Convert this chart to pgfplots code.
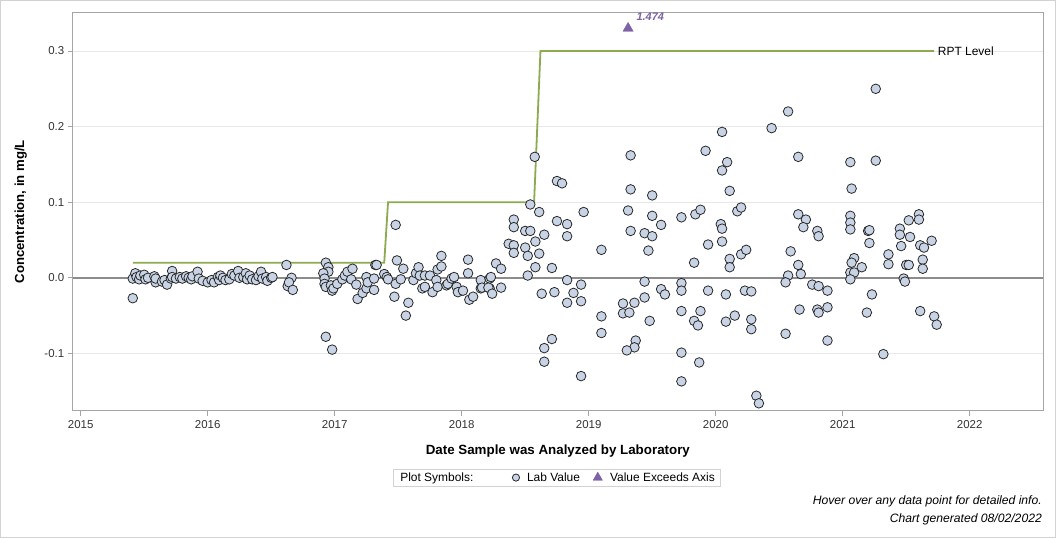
\documentclass[border=0pt]{standalone}
\usepackage{fontspec}
\setmainfont{Liberation Sans}
\usepackage{pgfplots}
\pgfplotsset{compat=1.18}
\definecolor{ptfill}{RGB}{200,212,229}
\definecolor{ptedge}{RGB}{40,40,40}
\definecolor{rptgreen}{RGB}{140,170,80}
\definecolor{exceed}{RGB}{125,98,165}
\definecolor{gridc}{RGB}{232,232,232}
\definecolor{framec}{RGB}{165,165,165}
\definecolor{zeroc}{RGB}{140,140,140}
\definecolor{outerc}{RGB}{210,210,210}
\begin{document}
\begin{tikzpicture}
\fill[white] (0bp,0bp) rectangle (1056bp,538bp);
\draw[outerc, line width=1bp] (0.5bp,0.5bp) rectangle (1055.5bp,537.5bp);
\useasboundingbox (0bp,0bp) rectangle (1056bp,538bp);
\begin{axis}[
  at={(72.7bp,127.3bp)}, anchor=south west,
  scale only axis, width=970.3bp, height=398bp,
  xmin=2014.937, xmax=2022.577,
  ymin=-0.1758, ymax=0.3507,
  clip mode=individual,
  axis line style={framec, line width=0.9bp},
  xtick={2015,2016,2017,2018,2019,2020,2021,2022},
  ytick={-0.1,0,0.1,0.2,0.3},
  xtick pos=lower, ytick pos=left,
  tick align=outside,
  major tick length=5bp,
  tick style={framec, line width=0.8bp},
  ymajorgrids, major grid style={gridc, line width=0.9bp},
  /pgf/number format/assume math mode=true,
  xticklabel style={/pgf/number format/1000 sep={}, font=\fontsize{11.5}{13}\selectfont, text=black!80, yshift=-1bp},
  yticklabel style={/pgf/number format/.cd, fixed, fixed zerofill, precision=1, /tikz/.cd, font=\fontsize{11.5}{13}\selectfont, text=black!80},
  xlabel={Date Sample was Analyzed by Laboratory},
  ylabel={Concentration, in mg/L},
  xlabel style={font=\fontsize{13.4}{15}\selectfont\bfseries, at={(axis description cs:0.5,-0.1015)}, anchor=center},
  ylabel style={font=\fontsize{13.2}{15}\selectfont\bfseries, at={(axis description cs:-0.0535,0.5)}, anchor=center},
  legend columns=3,
  legend style={at={(axis description cs:0.3300,-0.1455)}, anchor=north west,
    draw=outerc, line width=0.8bp, font=\fontsize{12}{14}\selectfont,
    inner xsep=3.5bp, inner ysep=1.5bp,
    /tikz/every even column/.append style={column sep=11bp},
    /tikz/every odd column/.append style={column sep=5.5bp}},
]
\addlegendimage{empty legend}
\addlegendentry{\hspace*{-4bp}Plot Symbols:\rule{26bp}{0bp}}
\addplot[forget plot, draw=zeroc, line width=1.8bp] coordinates {(2014.937,0) (2022.577,0)};
\addplot[forget plot, draw=rptgreen, line width=1.8bp] coordinates {
(2015.41,0.02) (2017.39,0.02) (2017.42,0.1) (2018.57,0.1) (2018.62,0.3) (2021.72,0.3)};
\node[anchor=west, font=\fontsize{12}{14}\selectfont, inner sep=1bp] at (axis cs:2021.74,0.3) {RPT Level};
\addplot[only marks, mark=*, mark size=4.8bp,
  mark options={fill=ptfill, draw=ptedge, line width=0.8bp},
  legend image post style={mark size=3.6bp}] table {
x y
2015.41 -0.001
2015.41 -0.027
2015.43 0.006
2015.44 0.001
2015.46 -0.002
2015.47 0.003
2015.50 0.004
2015.51 -0.002
2015.53 0.000
2015.58 0.002
2015.59 -0.006
2015.59 -0.001
2015.64 -0.005
2015.66 -0.003
2015.68 -0.009
2015.71 -0.001
2015.72 0.009
2015.72 0.001
2015.75 -0.001
2015.78 0.001
2015.80 -0.001
2015.83 0.002
2015.85 0.000
2015.87 -0.002
2015.88 0.002
2015.92 0.008
2015.93 -0.001
2015.96 -0.004
2016.00 -0.006
2016.03 -0.003
2016.05 -0.006
2016.08 0.001
2016.09 -0.003
2016.10 0.003
2016.12 0.000
2016.14 -0.003
2016.17 -0.002
2016.19 0.005
2016.21 0.003
2016.24 0.009
2016.25 0.000
2016.28 0.001
2016.30 0.006
2016.31 -0.002
2016.33 0.003
2016.35 -0.002
2016.38 -0.003
2016.40 0.002
2016.42 0.008
2016.43 -0.001
2016.46 0.001
2016.47 -0.004
2016.50 0.000
2016.51 0.001
2016.62 0.017
2016.66 0.000
2016.63 -0.011
2016.64 -0.006
2016.67 -0.016
2016.93 0.020
2016.95 0.014
2016.95 0.008
2016.91 0.006
2016.92 -0.001
2016.92 -0.008
2016.93 -0.012
2016.97 -0.010
2016.98 -0.017
2016.99 -0.014
2017.02 -0.008
2017.06 -0.002
2017.08 0.003
2017.10 0.008
2017.14 0.012
2017.13 -0.002
2017.17 -0.009
2017.18 -0.028
2017.22 -0.020
2017.25 -0.014
2017.25 0.001
2017.26 -0.006
2017.31 -0.016
2017.31 -0.001
2017.32 0.017
2017.33 0.017
2017.39 0.005
2017.41 0.001
2017.42 -0.002
2017.47 -0.025
2017.48 -0.008
2017.49 0.023
2017.48 0.070
2017.52 -0.002
2017.54 0.012
2017.58 -0.033
2017.56 -0.050
2017.62 -0.003
2017.64 0.006
2017.66 0.014
2017.67 0.003
2017.69 -0.014
2017.71 -0.012
2017.71 0.003
2017.75 0.003
2017.77 -0.019
2017.80 -0.003
2017.81 -0.012
2017.81 0.011
2017.84 0.029
2017.84 0.015
2017.88 -0.010
2017.89 -0.008
2017.92 -0.001
2017.94 0.001
2017.96 -0.012
2017.97 -0.019
2018.01 -0.017
2018.05 0.024
2018.05 0.006
2018.06 -0.029
2018.09 -0.025
2018.15 -0.003
2018.15 -0.014
2018.22 -0.001
2018.22 -0.014
2016.93 -0.078
2016.98 -0.095
2018.575 0.160
2018.75 0.128
2018.79 0.125
2019.33 0.162
2019.33 0.117
2019.50 0.109
2018.54 0.097
2018.61 0.087
2018.41 0.077
2018.41 0.067
2018.50 0.062
2018.54 0.062
2018.65 0.057
2018.75 0.075
2018.83 0.071
2018.83 0.055
2018.96 0.087
2018.58 0.048
2018.37 0.045
2018.41 0.043
2018.41 0.033
2018.50 0.040
2018.52 0.029
2018.61 0.032
2018.27 0.019
2018.31 0.012
2018.58 0.014
2018.71 0.013
2018.52 0.003
2019.10 0.037
2019.31 0.089
2019.33 0.062
2019.44 0.059
2019.50 0.055
2019.50 0.082
2019.47 0.036
2019.57 0.070
2018.23 0.001
2018.16 -0.013
2018.21 -0.013
2018.31 -0.013
2018.24 -0.021
2018.83 -0.003
2018.94 -0.009
2018.63 -0.021
2018.73 -0.019
2018.88 -0.020
2018.83 -0.033
2018.94 -0.031
2019.10 -0.051
2019.10 -0.073
2019.27 -0.034
2019.27 -0.047
2019.32 -0.046
2019.36 -0.033
2019.44 -0.026
2019.48 -0.057
2019.44 -0.005
2019.57 -0.015
2018.71 -0.081
2018.65 -0.093
2018.65 -0.111
2018.94 -0.130
2019.37 -0.083
2019.36 -0.092
2019.30 -0.096
2020.57 0.220
2020.44 0.198
2020.05 0.193
2019.92 0.168
2020.65 0.160
2020.09 0.153
2020.05 0.142
2020.11 0.115
2019.73 0.080
2019.84 0.084
2019.88 0.090
2020.04 0.071
2020.05 0.065
2019.94 0.044
2020.05 0.048
2020.17 0.088
2020.20 0.093
2020.20 0.031
2020.24 0.037
2020.11 0.025
2020.11 0.014
2019.83 0.020
2020.65 0.084
2020.71 0.077
2020.69 0.067
2020.80 0.062
2020.81 0.055
2020.59 0.035
2020.65 0.017
2020.67 0.005
2020.57 0.003
2020.55 -0.006
2020.76 -0.009
2020.81 -0.011
2019.60 -0.022
2019.73 -0.007
2019.73 -0.017
2019.94 -0.017
2020.08 -0.022
2020.23 -0.017
2020.28 -0.018
2019.73 -0.044
2019.88 -0.044
2019.83 -0.057
2019.86 -0.063
2020.08 -0.058
2020.15 -0.050
2020.28 -0.055
2020.28 -0.068
2020.55 -0.074
2020.66 -0.042
2020.80 -0.042
2020.81 -0.046
2019.73 -0.099
2019.87 -0.112
2019.73 -0.137
2020.32 -0.156
2020.34 -0.166
2021.26 0.250
2021.06 0.153
2021.26 0.155
2021.07 0.118
2021.06 0.082
2021.06 0.073
2021.06 0.064
2021.20 0.062
2021.21 0.063
2021.21 0.046
2021.09 0.026
2021.07 0.020
2021.06 0.007
2021.09 0.007
2021.15 0.014
2021.06 -0.002
2021.36 0.031
2021.36 0.018
2021.45 0.065
2021.45 0.057
2021.52 0.076
2021.53 0.054
2021.46 0.042
2021.60 0.084
2021.60 0.077
2021.61 0.043
2021.64 0.040
2021.70 0.049
2021.63 0.024
2021.63 0.012
2021.50 0.017
2021.52 0.017
2021.48 -0.001
2021.49 -0.005
2020.88 -0.017
2021.23 -0.022
2020.88 -0.039
2020.88 -0.083
2021.19 -0.046
2021.32 -0.101
2021.61 -0.044
2021.72 -0.051
2021.74 -0.062
};
\addlegendentry{Lab Value}
\addplot[only marks, mark=triangle*, mark size=6bp,
  mark options={fill=exceed, draw=exceed, line width=0.3bp},
  legend image post style={mark size=5.5bp}] table {
x y
2019.31 0.330
};
\addlegendentry{Value Exceeds Axis}
\node[anchor=west, text=exceed, font=\fontsize{11}{13}\selectfont\bfseries\itshape, inner sep=0bp] at (axis cs:2019.375,0.345) {1.474};
\end{axis}
\node[anchor=east, font=\fontsize{12.2}{14}\selectfont\itshape, inner sep=0bp] at (1042bp,37bp) {Hover over any data point for detailed info.};
\node[anchor=east, font=\fontsize{12.2}{14}\selectfont\itshape, inner sep=0bp] at (1042bp,19bp) {Chart generated 08/02/2022};
\end{tikzpicture}
\end{document}
